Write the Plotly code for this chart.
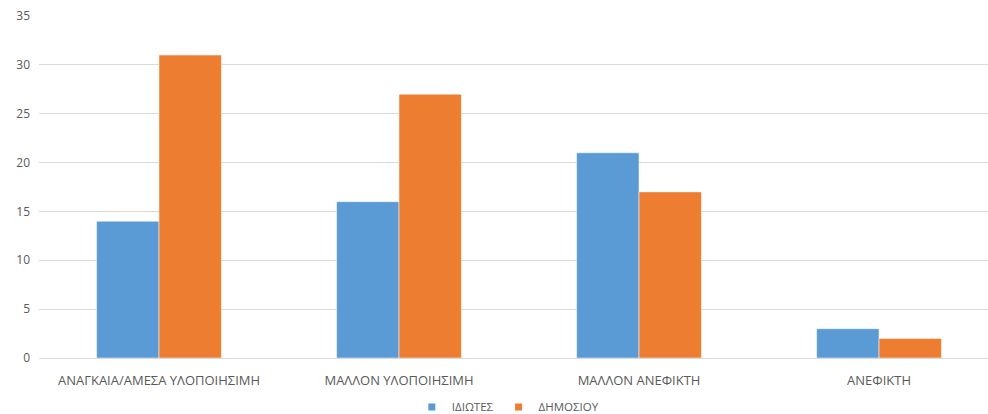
import plotly.graph_objects as go

categories = ["ΑΝΑΓΚΑΙΑ/ΑΜΕΣΑ ΥΛΟΠΟΙΗΣΙΜΗ", "ΜΑΛΛΟΝ ΥΛΟΠΟΙΗΣΙΜΗ", "ΜΑΛΛΟΝ ΑΝΕΦΙΚΤΗ", "ΑΝΕΦΙΚΤΗ"]
series_names = ["ΙΔΙΩΤΕΣ", "ΔΗΜΟΣΙΟΥ"]
idiotes = [14, 16, 21, 3]
dimosiou = [31, 27, 17, 2]
colors = ["#5B9BD5", "#ED7D31"]

fig = go.Figure()
for name, vals, col in zip(series_names, [idiotes, dimosiou], colors):
    fig.add_trace(go.Bar(name=name, x=categories, y=vals, marker_color=col,
                         marker_line_color="white", marker_line_width=0.5,
                         showlegend=False))
# legend entries with small square markers
for name, col in zip(series_names, colors):
    fig.add_trace(go.Scatter(name=name, x=[None], y=[None], mode="markers",
                             marker=dict(symbol="square", size=7, color=col),
                             showlegend=True))

fig.update_layout(
    width=988, height=414,
    margin=dict(l=39, r=0, t=16, b=56),
    paper_bgcolor="white", plot_bgcolor="white",
    barmode="group", bargap=0.48, bargroupgap=0,
    font=dict(family="Open Sans", size=12, color="#595959"),
    showlegend=True,
    legend=dict(orientation="h", x=0.494, xanchor="center", yref="container",
                y=0.017, yanchor="middle", font=dict(size=11.5, color="#595959"),
                itemwidth=30, tracegroupgap=0),
    xaxis=dict(range=[-0.5, 3.454], showgrid=False, showline=True, linecolor="#D9D9D9",
               linewidth=1, ticks="", ticklabelstandoff=10,
               tickfont=dict(size=13, color="#595959")),
    yaxis=dict(range=[0, 35], dtick=5, showgrid=True, gridcolor="#D9D9D9", gridwidth=1,
               zeroline=False, showline=False, ticks="", ticklabelstandoff=8,
               tickfont=dict(size=12, color="#595959")),
)

fig.write_html("out.html")
